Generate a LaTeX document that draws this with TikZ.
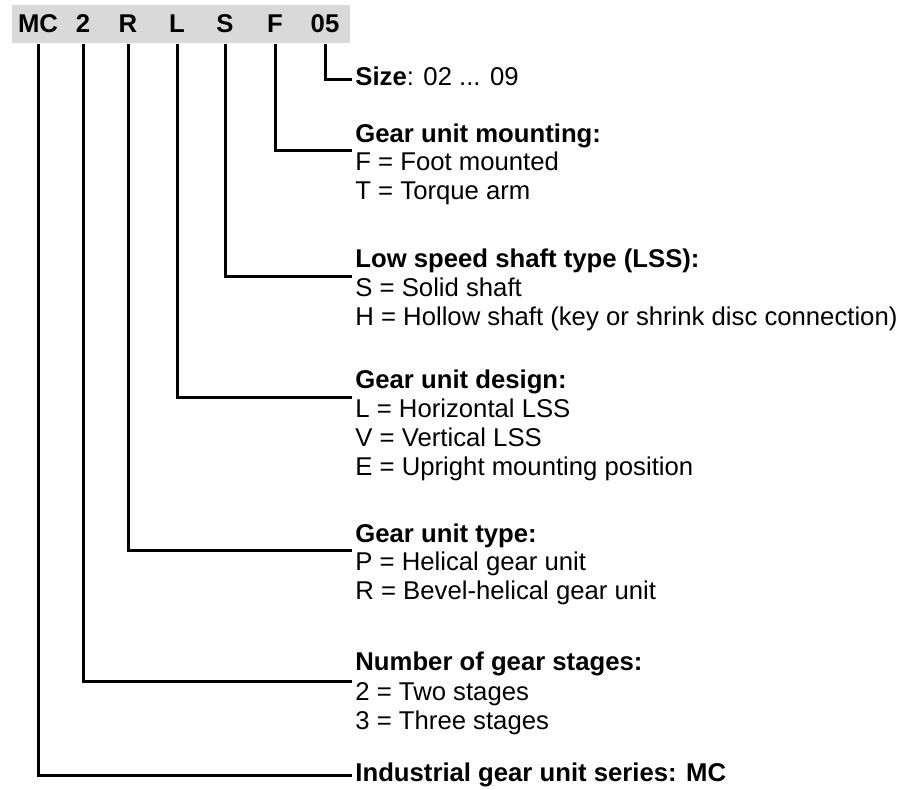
\documentclass[tikz,border=0pt]{standalone}
\usepackage{fontspec}
\setmainfont{Liberation Sans}
\usetikzlibrary{positioning}
\definecolor{barfill}{RGB}{217,217,217}

\begin{document}
\begin{tikzpicture}[x=0.5pt, y=-0.5pt,
    every node/.style={font=\fontsize{12.85}{15}\selectfont},
    code/.style={anchor=base, font=\fontsize{12.85}{15}\selectfont\bfseries},
    txt/.style={anchor=base west, inner xsep=1.5pt, inner ysep=0pt},
    head/.style={txt, font=\fontsize{12.85}{15}\selectfont\bfseries},
    leader/.style={line width=1.5pt}]
        \useasboundingbox (0,0) rectangle (909,789);
        \node[fill=barfill, minimum width=169pt, minimum height=19pt, inner sep=0pt, anchor=north west] (codebar) at (12,5) {};
        \node[code] (mc) at (38,32) {MC};
        \node[code] (stg) at (83,32) {2};
        \node[code] (typ) at (128,32) {R};
        \node[code] (des) at (177,32) {L};
        \node[code] (lss) at (225,32) {S};
        \node[code] (mnt) at (275,32) {F};
        \node[code] (sz) at (325,32) {05};

        \node[txt] (size) at (352,85) {\textbf{Size}: 02 ... 09};

        \node[head] (mnthead) at (352,142) {Gear unit mounting:};
        \node[txt] (mntF) at (352,170) {F = Foot mounted};
        \node[txt] (mntT) at (352,199) {T = Torque arm};

        \node[head] (lsshead) at (352,267) {Low speed shaft type (LSS):};
        \node[txt] (lssS) at (352,296) {S = Solid shaft};
        \node[txt] (lssH) at (352,325) {H = Hollow shaft (key or shrink disc connection)};

        \node[head] (deshead) at (352,388) {Gear unit design:};
        \node[txt] (desL) at (352,417) {L = Horizontal LSS};
        \node[txt] (desV) at (352,446) {V = Vertical LSS};
        \node[txt] (desE) at (352,475) {E = Upright mounting position};

        \node[head] (typhead) at (352,542) {Gear unit type:};
        \node[txt] (typP) at (352,570) {P = Helical gear unit};
        \node[txt] (typR) at (352,599) {R = Bevel-helical gear unit};

        \node[head] (stghead) at (352,670) {Number of gear stages:};
        \node[txt] (stg2) at (352,700) {2 = Two stages};
        \node[txt] (stg3) at (352,729) {3 = Three stages};

        \node[head] (series) at (352,781) {Industrial gear unit series: MC};

        \draw[leader] (sz |- codebar.south) |- ([yshift=3pt]size.base west);
        \draw[leader] (mnt |- codebar.south) |- (mntF.north west);
        \draw[leader] (lss |- codebar.south) |- (lssS.north west);
        \draw[leader] (des |- codebar.south) |- (desL.north west);
        \draw[leader] (typ |- codebar.south) |- (typP.north west);
        \draw[leader] (stg |- codebar.south) |- (stg2.north west);
        \draw[leader] (mc |- codebar.south) |- ([yshift=3pt]series.base west);
    \end{tikzpicture}
\end{document}
